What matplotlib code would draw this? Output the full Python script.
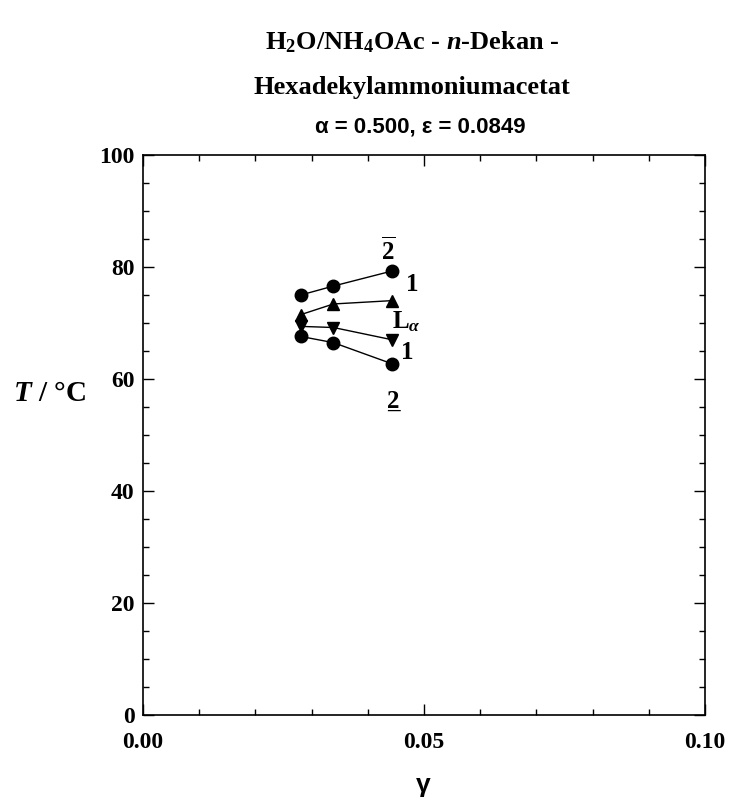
import numpy as np
import matplotlib.pyplot as plt
from matplotlib.ticker import MultipleLocator

# Datenpunkte (gamma, T / °C)
gamma = [0.0281, 0.0339, 0.0444]
t_upper = [75.0, 76.6, 79.3]      # 2quer -> 1
t_la_up = [71.5, 73.4, 74.0]      # 1 -> L_alpha
t_la_down = [69.4, 69.2, 67.0]    # L_alpha -> 1
t_lower = [67.6, 66.5, 62.7]      # 1 -> 2unten

serif = "Liberation Serif"
sans = "Liberation Sans"
plt.rcParams["mathtext.fontset"] = "custom"
plt.rcParams["mathtext.rm"] = "Liberation Serif:bold"
plt.rcParams["mathtext.bf"] = "Liberation Serif:bold"
plt.rcParams["mathtext.it"] = "Liberation Serif:bold:italic"

fig = plt.figure(figsize=(7.29, 8.11), dpi=100)
ax = fig.add_axes([0.196, 0.118, 0.771, 0.691])

ax.plot(gamma, t_upper, "-o", color="black", lw=1, ms=9)
ax.plot(gamma, t_la_up, "-^", color="black", lw=1, ms=9)
ax.plot(gamma, t_la_down, "-v", color="black", lw=1, ms=9)
ax.plot(gamma, t_lower, "-o", color="black", lw=1, ms=9)

ax.set_xlim(0, 0.10)
ax.set_ylim(0, 100)
ax.xaxis.set_major_locator(MultipleLocator(0.05))
ax.xaxis.set_minor_locator(MultipleLocator(0.01))
ax.yaxis.set_major_locator(MultipleLocator(20))
ax.yaxis.set_minor_locator(MultipleLocator(5))
ax.tick_params(which="both", direction="in", top=True, right=True, width=1)
ax.tick_params(which="major", length=8)
ax.tick_params(which="minor", length=4)
ax.tick_params(axis="x", pad=12)
ax.tick_params(axis="y", pad=6)
ax.set_xticks([0, 0.05, 0.10])
ax.set_xticklabels(["0.00", "0.05", "0.10"])
for lab in ax.get_xticklabels() + ax.get_yticklabels():
    lab.set_fontfamily(serif)
    lab.set_fontweight("bold")
    lab.set_fontsize(17)
for sp in ax.spines.values():
    sp.set_linewidth(1.2)

# Phasenbezeichnungen
tkw = dict(fontfamily=serif, fontweight="bold", fontsize=18, ha="center", va="center")
ax.text(0.0437, 83.0, r"$\overline{2}$", **tkw)
ax.text(0.0479, 76.8, "1", **tkw)
ax.text(0.0468, 70.2, r"L$_\alpha$", **tkw)
ax.text(0.0470, 64.8, "1", **tkw)
ax.text(0.0445, 56.0, "2", **tkw)
ax.text(0.0445, 56.0, "_", **tkw)

fig.text(0.018, 0.515, r"$T$ / °C", fontfamily=serif, fontweight="bold",
         fontsize=21, ha="left", va="center")
fig.text(0.581, 0.032, "γ", fontfamily=sans, fontweight="bold", fontsize=19,
         ha="center", va="center")

# Titel
fig.text(0.565, 0.948, r"H$_2$O/NH$_4$OAc - $n$-Dekan -",
         fontfamily=serif, fontweight="bold", fontsize=19, ha="center", va="center")
fig.text(0.565, 0.892, "Hexadekylammoniumacetat", fontfamily=serif, fontweight="bold",
         fontsize=19, ha="center", va="center")
fig.text(0.576, 0.843, "α = 0.500, ε = 0.0849", fontfamily=sans, fontweight="bold",
         fontsize=16, ha="center", va="center")

fig.savefig("out.png", dpi=100)
